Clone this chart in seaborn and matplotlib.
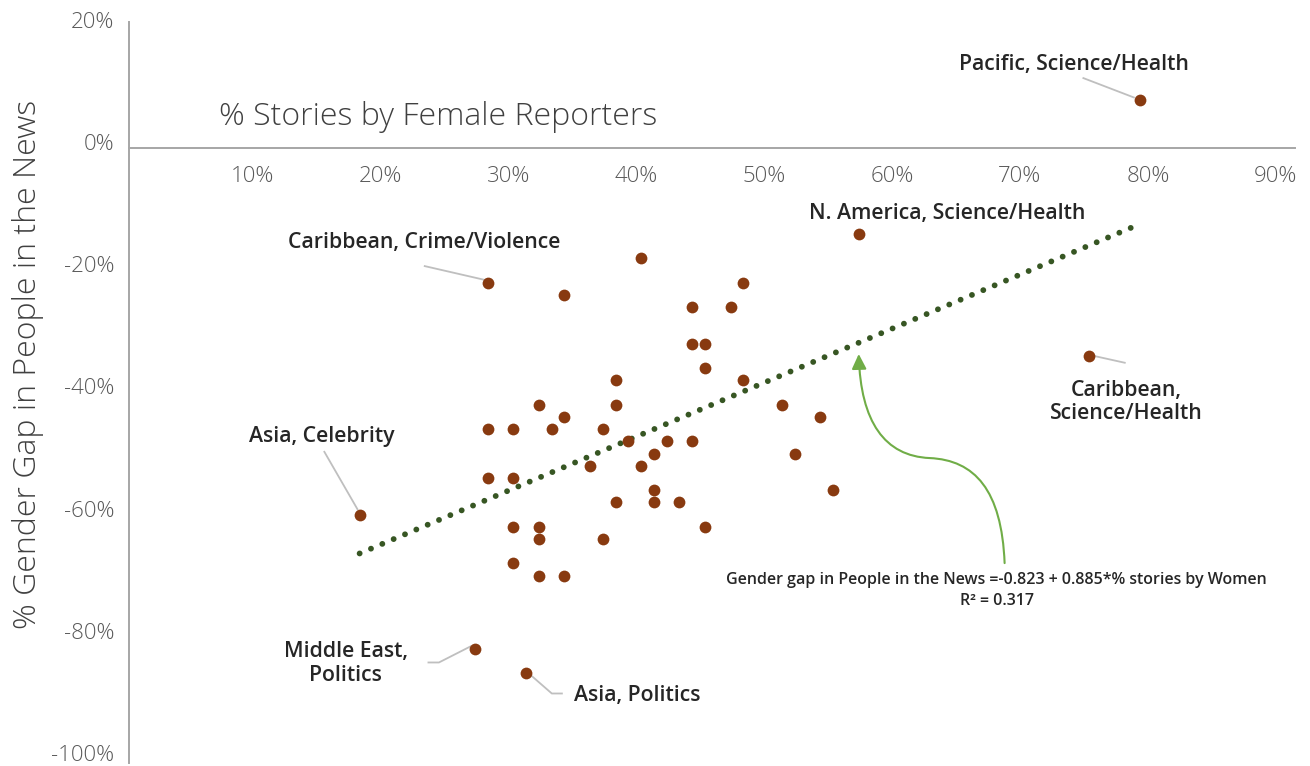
import matplotlib
matplotlib.use("Agg")
import matplotlib.pyplot as plt
import seaborn as sns
import pandas as pd
from matplotlib.path import Path
from matplotlib.patches import FancyArrowPatch
from matplotlib.transforms import ScaledTranslation
from matplotlib.ticker import PercentFormatter

# ---------------- data ----------------
pct_stories_female = [0.79, 0.57, 0.28, 0.34, 0.40, 0.44, 0.48, 0.47, 0.44, 0.45,
                      0.45, 0.38, 0.48, 0.75, 0.28, 0.30, 0.32, 0.33, 0.34, 0.37,
                      0.38, 0.39, 0.40, 0.41, 0.42, 0.44, 0.36, 0.28, 0.30, 0.38,
                      0.41, 0.41, 0.43, 0.51, 0.54, 0.52, 0.55, 0.45, 0.30, 0.32,
                      0.32, 0.37, 0.30, 0.32, 0.34, 0.18, 0.27, 0.31]
gender_gap = [0.08, -0.14, -0.22, -0.24, -0.18, -0.26, -0.22, -0.26, -0.32, -0.32,
              -0.36, -0.38, -0.38, -0.34, -0.46, -0.46, -0.42, -0.46, -0.44, -0.46,
              -0.42, -0.48, -0.52, -0.50, -0.48, -0.48, -0.52, -0.54, -0.54, -0.58,
              -0.56, -0.58, -0.58, -0.42, -0.44, -0.50, -0.56, -0.62, -0.62, -0.62,
              -0.64, -0.64, -0.68, -0.70, -0.70, -0.60, -0.82, -0.86]

reg_intercept = -0.823
reg_slope = 0.885
reg_r2 = 0.317

x_ticks = [0.1, 0.2, 0.3, 0.4, 0.5, 0.6, 0.7, 0.8, 0.9]
y_ticks = [-1.0, -0.8, -0.6, -0.4, -0.2, 0.0, 0.2]

callout_labels = ["Pacific, Science/Health", "N. America, Science/Health",
                  "Caribbean, Crime/Violence", "Caribbean,\nScience/Health",
                  "Asia, Celebrity", "Middle East,\nPolitics", "Asia, Politics"]

# ---------------- style ----------------
sns.set_theme(style="white")
plt.rcParams["font.family"] = ["Open Sans", "DejaVu Sans"]
plt.rcParams["axes.unicode_minus"] = False

POINT = "#883A10"
TREND = "#375623"
ARROW = "#70AD47"
AXIS = "#A6A6A6"
TICK = "#595959"
LABEL = "#262626"
LEADER = "#BFBFBF"

fig = plt.figure(figsize=(13.1, 7.66), dpi=100)
ax = fig.add_axes([0.0987, 0.0039, 0.8898, 0.9674])

df = pd.DataFrame({"x": pct_stories_female, "y": gender_gap})

# trend line over the data range
x0, x1 = min(pct_stories_female), max(pct_stories_female)
trend = pd.DataFrame({"x": [x0, x1],
                      "y": [reg_intercept + reg_slope * x0, reg_intercept + reg_slope * x1]})
sns.lineplot(data=trend, x="x", y="y", ax=ax, color=TREND, linewidth=4.2, zorder=2)
tl = ax.lines[-1]
tl.set_linestyle((0, (0.01, 2.1)))
tl.set_dash_capstyle("round")

sns.scatterplot(data=df, x="x", y="y", ax=ax, color=POINT, s=72, linewidth=0, zorder=3)

ax.set_xlim(0, 0.911)
ax.set_ylim(-1.007, 0.207)
ax.set_xlabel("")
ax.set_ylabel("")

for s in ["top", "right"]:
    ax.spines[s].set_visible(False)
ax.spines["bottom"].set_position(("data", 0))
for s in ["bottom", "left"]:
    ax.spines[s].set_color(AXIS)
    ax.spines[s].set_linewidth(1.4)

ax.set_xticks(x_ticks)
ax.set_yticks(y_ticks)
ax.xaxis.set_major_formatter(PercentFormatter(1.0, decimals=0))
ax.yaxis.set_major_formatter(PercentFormatter(1.0, decimals=0))
ax.tick_params(axis="both", length=0, labelsize=16, labelcolor=TICK)
ax.tick_params(axis="x", pad=13)
ax.tick_params(axis="y", pad=10.7)
for lab in ax.get_xticklabels():
    lab.set_fontweight("light")
    lab.set_transform(lab.get_transform() + ScaledTranslation(-5 / 100, 0, fig.dpi_scale_trans))
for lab in ax.get_yticklabels():
    lab.set_fontweight("light")
    lab.set_transform(lab.get_transform() + ScaledTranslation(0, 6 / 100, fig.dpi_scale_trans))

# axis titles
ax.text(0.0701, 0.0516, "% Stories by Female Reporters", ha="left", va="center",
        fontsize=23, fontweight="light", color="#404040")
fig.text(28 / 1310, 1 - 364 / 766, "% Gender Gap in People in the News", rotation=90,
         ha="center", va="center", fontsize=23, fontweight="light", color="#404040")

# callouts: (text x, text y, ha, leader points)
callout_pos = [
    (0.738, 0.138, "center", [(0.745, 0.1156), (0.7858, 0.0828)]),
    (0.6396, -0.106, "center", None),
    (0.2302, -0.155, "center", [(0.2302, -0.1926), (0.2779, -0.2156)]),
    (0.7795, -0.4155, "center", [(0.7505, -0.3385), (0.7787, -0.3516)]),
    (0.1505, -0.4715, "center", [(0.1521, -0.4959), (0.1787, -0.5926)]),
    (0.1693, -0.8435, "center", [(0.2331, -0.8423), (0.2420, -0.8423), (0.2675, -0.8151)]),
    (0.3474, -0.8965, "left", [(0.3099, -0.856), (0.3302, -0.8931), (0.3388, -0.8931)]),
]
for text, (tx, ty, ha, leader) in zip(callout_labels, callout_pos):
    ax.text(tx, ty, text, ha=ha, va="center", fontsize=15.3, fontweight="semibold",
            color=LABEL, linespacing=1.18, zorder=5)
    if leader:
        ax.plot([p[0] for p in leader], [p[1] for p in leader], color=LEADER, lw=1.3,
                zorder=2.5, solid_capstyle="butt")

# regression equation
eq = (f"Gender gap in People in the News ={reg_intercept:.3f} + "
      f"{reg_slope:.3f}*% stories by Women")
ax.text(0.6779, -0.7075, eq, ha="center", va="center", fontsize=11.5,
        fontweight="semibold", color=LABEL)
ax.text(0.6779, -0.7415, f"R\u00b2 = {reg_r2:.3f}", ha="center", va="center",
        fontsize=11.5, fontweight="semibold", color=LABEL)

# curved arrow pointing to trend line
verts = [(0.6841, -0.6795), (0.6818, -0.5598), (0.6607, -0.5107), (0.6255, -0.5074),
         (0.5904, -0.5041), (0.5716, -0.4484), (0.5701, -0.3369)]
codes = [Path.MOVETO] + [Path.CURVE4] * 6
arrow = FancyArrowPatch(path=Path(verts, codes),
                        arrowstyle="-|>,head_length=0.45,head_width=0.22",
                        mutation_scale=20, color=ARROW, lw=1.5, zorder=4)
ax.add_patch(arrow)

fig.savefig("out.png", dpi=100)
